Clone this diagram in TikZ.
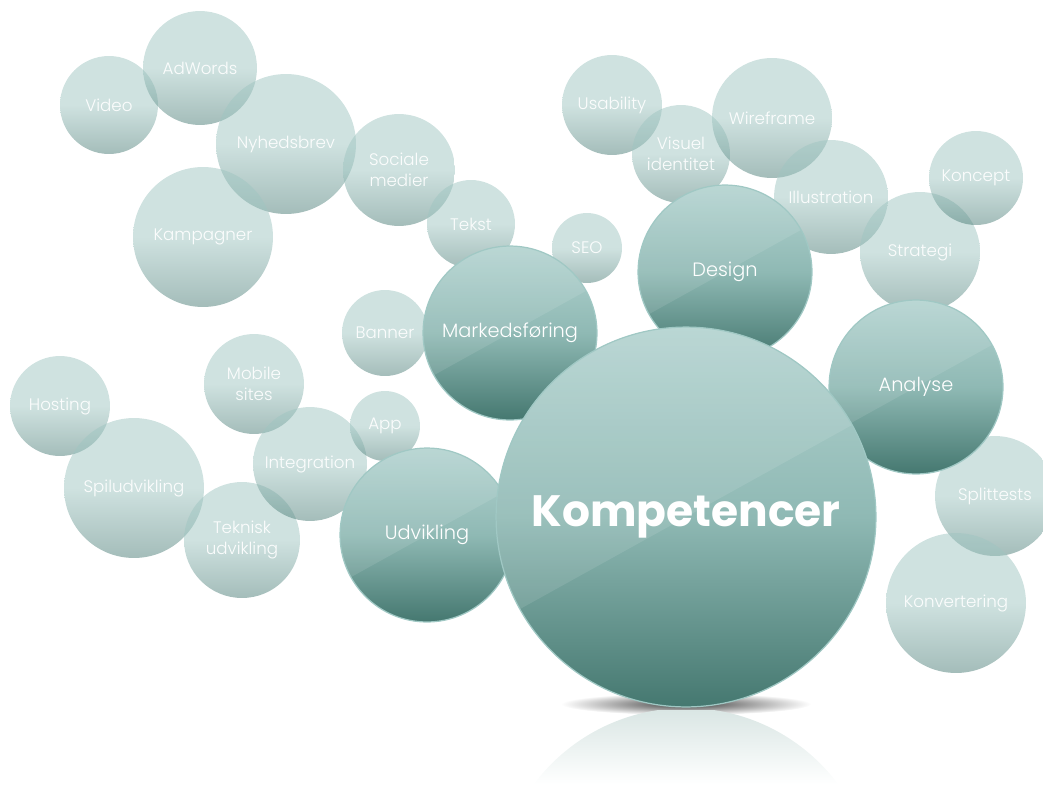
\documentclass[tikz,border=0pt]{standalone}
\usepackage{fontspec}
\setmainfont{Poppins}
\newfontfamily\lightfont{Poppins Light}
\usetikzlibrary{calc}
\definecolor{bubbleTop}{RGB}{159,197,193}
\definecolor{bubbleBottom}{RGB}{73,123,117}
\definecolor{hubTop}{RGB}{179,211,208}
\definecolor{hubMid}{RGB}{143,185,180}
\definecolor{hubBottom}{RGB}{69,120,112}
\definecolor{hubRim}{RGB}{160,200,196}
\definecolor{reflTop}{RGB}{218,230,228}

\tikzset{
  bubble/.style={circle, inner sep=0pt, minimum size=#1*0.04cm, align=center,
    top color=bubbleTop, bottom color=bubbleBottom, middle color=bubbleTop,
    fill opacity=0.5, text opacity=0.93, text=white,
    font=\lightfont\fontsize{9.5}{12}\selectfont},
  hub/.style={circle, inner sep=0pt, minimum size=#1*0.04cm, align=center,
    draw=hubRim, line width=0.7pt,
    top color=hubTop, bottom color=hubBottom, middle color=hubMid,
    text=white, font=\lightfont\fontsize{11}{13}\selectfont,
    path picture={\fill[white, fill opacity=0.1]
      ($(path picture bounding box.center)+(-151:8cm)$) --
      ($(path picture bounding box.center)+(29:8cm)$) --
      ($(path picture bounding box.center)+(119:8cm)$) -- cycle;}}
}

\begin{document}
\begin{tikzpicture}[x=0.02cm, y=-0.02cm]
\useasboundingbox (0,0) rectangle (1043,784);
% Marketing bubbles
\node[bubble=49] (video) at (109,105) {Video};
\node[bubble=57] (adwords) at (200,68) {AdWords};
\node[bubble=70] (nyhedsbrev) at (286,144) {Nyhedsbrev};
\node[bubble=70] (kampagner) at (203,237) {Kampagner};
\node[bubble=56] (sociale) at (399,170) {Sociale\\medier};
\node[bubble=44] (tekst) at (471,224) {Tekst};
\node[bubble=35] (seo) at (587,248) {SEO};
\node[bubble=43] (banner) at (385,333) {Banner};
% Design bubbles
\node[bubble=50] (usability) at (612,105) {Usability};
\node[bubble=49] (visuel) at (681,154) {Visuel\\identitet};
\node[bubble=60] (wireframe) at (772,118) {Wireframe};
\node[bubble=57] (illustration) at (831,197) {Illustration};
\node[bubble=60] (strategi) at (920,252) {Strategi};
\node[bubble=47] (koncept) at (976,178) {Koncept};
% Development bubbles
\node[bubble=50] (hosting) at (60,406) {Hosting};
\node[bubble=50] (mobile) at (254,384) {Mobile\\sites};
\node[bubble=70] (spil) at (134,488) {Spiludvikling};
\node[bubble=58] (teknisk) at (242,540) {Teknisk\\udvikling};
\node[bubble=57] (integration) at (310,464) {Integration};
\node[bubble=35] (app) at (385,426) {App};
% Analysis bubbles
\node[bubble=60] (splittests) at (995,496) {Splittests};
\node[bubble=70] (konvertering) at (956,603) {Konvertering};
% Main areas
\node[hub=87] (markedsfoering) at (510,333) {Markedsføring};
\node[hub=87] (design) at (725,272) {Design};
\node[hub=87] (analyse) at (916,387) {Analyse};
\node[hub=87] (udvikling) at (427,535) {Udvikling};
% Shadow and reflection
\shade[inner color=black!75, outer color=white] (686,704) ellipse (125 and 11);
\begin{scope}
  \clip (686,898) circle (190);
  \shade[top color=reflTop, bottom color=white] (490,710) rectangle (882,784);
\end{scope}
% Center
\node[hub=190, font=\bfseries\fontsize{25}{30}\selectfont] (kompetencer) at (686,517) {Kompetencer};
\end{tikzpicture}
\end{document}
